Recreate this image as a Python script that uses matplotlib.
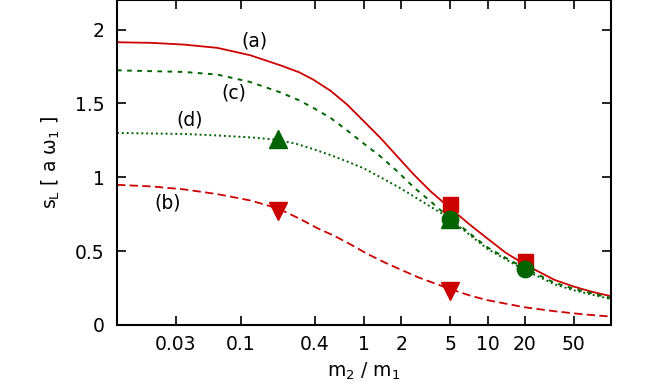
import matplotlib
matplotlib.use('Agg')
import matplotlib.pyplot as plt

# curve (a): red solid
xa = [0.01, 0.019, 0.035, 0.065, 0.12, 0.21, 0.3, 0.39, 0.537, 0.73, 1.0, 1.36, 1.86, 2.54, 3.47, 4.46, 5.0, 7.3, 10, 14, 20, 35, 50, 70, 100]
ya = [1.914, 1.91, 1.898, 1.876, 1.826, 1.758, 1.71, 1.66, 1.585, 1.492, 1.378, 1.266, 1.141, 1.017, 0.904, 0.825, 0.79, 0.675, 0.585, 0.49, 0.41, 0.305, 0.26, 0.225, 0.195]

# curve (b): red dashed
xb = [0.01, 0.019, 0.035, 0.065, 0.12, 0.2, 0.3, 0.42, 0.57, 0.8, 1.06, 1.5, 1.98, 2.8, 3.7, 5.0, 7.3, 10, 20, 35, 60, 100]
yb = [0.949, 0.938, 0.918, 0.886, 0.843, 0.79, 0.72, 0.655, 0.605, 0.54, 0.482, 0.42, 0.375, 0.32, 0.283, 0.243, 0.198, 0.168, 0.12, 0.093, 0.072, 0.057]

# curve (c): green dashed
xc = [0.01, 0.035, 0.065, 0.12, 0.21, 0.3, 0.39, 0.537, 0.73, 1.0, 1.36, 1.86, 2.54, 3.47, 4.2, 5.0, 7.3, 10, 14, 20, 35, 50, 100]
yc = [1.724, 1.713, 1.695, 1.645, 1.575, 1.52, 1.469, 1.401, 1.317, 1.227, 1.141, 1.04, 0.931, 0.836, 0.775, 0.728, 0.615, 0.525, 0.455, 0.385, 0.285, 0.245, 0.182]

# curve (d): green dotted
xd = [0.01, 0.035, 0.065, 0.12, 0.2, 0.287, 0.39, 0.537, 0.73, 1.0, 1.36, 1.86, 2.54, 3.47, 4.46, 5.0, 7.3, 10, 14, 20, 35, 50, 100]
yd = [1.30, 1.293, 1.283, 1.27, 1.254, 1.225, 1.19, 1.15, 1.107, 1.06, 1.0, 0.938, 0.87, 0.80, 0.745, 0.715, 0.605, 0.515, 0.445, 0.372, 0.275, 0.235, 0.175]

# markers
sq_x, sq_y = [5, 20], [0.819, 0.436]
ci_x, ci_y = [5, 20], [0.716, 0.377]
tu_x, tu_y = [0.2, 5], [1.262, 0.72]
td_x, td_y = [0.2, 5], [0.773, 0.228]

xticks = [0.03, 0.1, 0.4, 1, 2, 5, 10, 20, 50]
xticklabels = ['0.03', '0.1', '0.4', '1', '2', '5', '10', '20', '50']
yticks = [0, 0.5, 1, 1.5, 2]
yticklabels = ['0', '0.5', '1', '1.5', '2']

red = '#cc0000'
green = '#006400'

fig = plt.figure(figsize=(6.64, 3.88), dpi=100, facecolor='white')
ax = fig.add_axes([117/664, 63/388, 494/664, 325/388])

ax.plot(xa, ya, color=red, linewidth=1.3)
ax.plot(xb, yb, color=red, linewidth=1.3, linestyle=(0, (4.6, 2.4)))
ax.plot(xc, yc, color=green, linewidth=1.4, linestyle=(0, (2.4, 2.8)))
ax.plot(xd, yd, color=green, linewidth=1.4, linestyle=(0, (1.0, 1.5)))

ax.plot(tu_x, tu_y, '^', color=green, markersize=13, linestyle='none', zorder=5)
ax.plot(td_x, td_y, 'v', color=red, markersize=13, linestyle='none', zorder=5)
ax.plot(sq_x, sq_y, 's', color=red, markersize=10.8, linestyle='none', zorder=5)
ax.plot(ci_x, ci_y, 'o', color=green, markersize=11.8, linestyle='none', zorder=6)

ax.text(0.129, 1.921, '(a)', fontsize=13.5, ha='center', va='center')
ax.text(0.089, 1.571, '(c)', fontsize=13.5, ha='center', va='center')
ax.text(0.0389, 1.385, '(d)', fontsize=13.5, ha='center', va='center')
ax.text(0.0255, 0.825, '(b)', fontsize=13.5, ha='center', va='center')

ax.set_xscale('log')
ax.set_xlim([0.01, 100])
ax.set_ylim([0, 2.2])
ax.set_xticks(xticks)
ax.set_xticklabels(xticklabels)
ax.set_yticks(yticks)
ax.set_yticklabels(yticklabels)
ax.xaxis.set_minor_locator(matplotlib.ticker.NullLocator())

ax.tick_params(axis='both', which='major', direction='in', length=6.5, width=1.2,
               labelsize=13.5, top=True, right=True)
ax.tick_params(axis='y', pad=9)
ax.tick_params(axis='x', pad=7)

for side in ['left', 'right', 'top', 'bottom']:
    ax.spines[side].set_linewidth(1.5)

ax.set_xlabel('m$_2$ / m$_1$', fontsize=13.5)
ax.set_ylabel('s$_\\mathrm{L}$ [ a ω$_1$ ]', fontsize=13.5)
ax.xaxis.set_label_coords(0.5, -0.11)
ax.yaxis.set_label_coords(-0.112, 0.5)

fig.savefig('out.png', dpi=100, facecolor='white')
